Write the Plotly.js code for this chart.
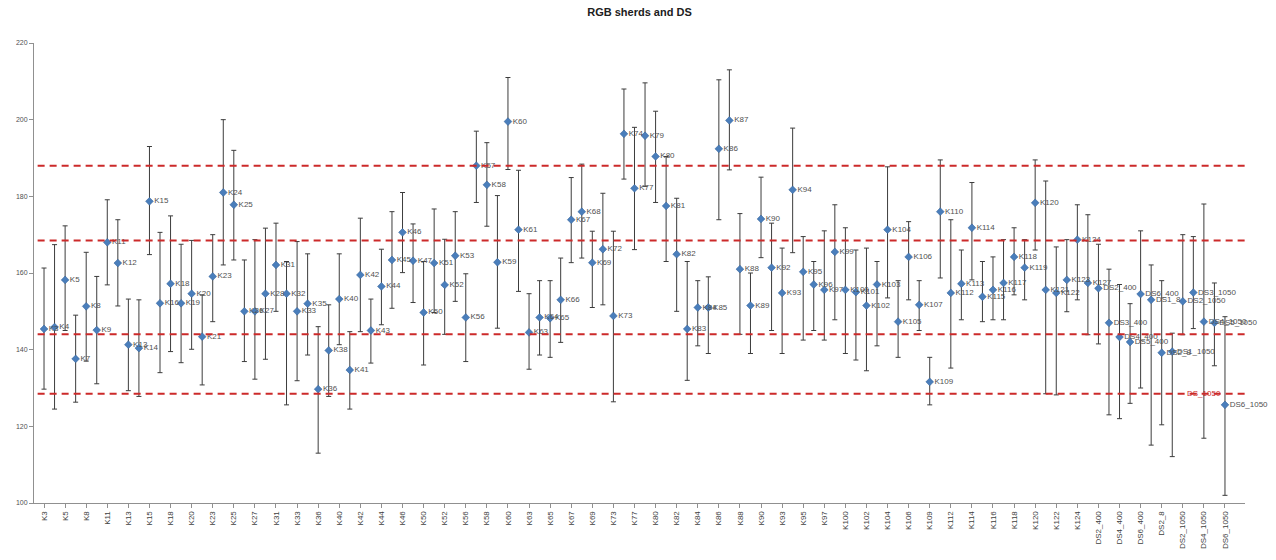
<!DOCTYPE html>
<html>
<head>
<meta charset="utf-8">
<script src="https://cdn.plot.ly/plotly-3.0.1.min.js"></script>
<style>html,body{margin:0;padding:0;background:#fff;}#chart{width:1276px;height:560px;}</style>
</head>
<body>
<div id="chart"></div>
<script>
const categories = ["K3","K4","K5","K7","K8","K9","K11","K12","K13","K14",
 "K15","K16","K18","K19","K20","K21","K23","K24","K25","K26",
 "K27","K28","K31","K32","K33","K35","K36","K38","K40","K41",
 "K42","K43","K44","K45","K46","K47","K50","K51","K52","K53",
 "K56","K57","K58","K59","K60","K61","K63","K64","K65","K66",
 "K67","K68","K69","K72","K73","K74","K77","K79","K80","K81",
 "K82","K83","K84","K85","K86","K87","K88","K89","K90","K92",
 "K93","K94","K95","K96","K97","K99","K100","K101","K102","K103",
 "K104","K105","K106","K107","K109","K110","K112","K113","K114","K115",
 "K116","K117","K118","K119","K120","K121","K122","K123","K124","K127",
 "DS2_400","DS3_400","DS4_400","DS5_400","DS6_400","DS1_8","DS2_8","DS1_1050","DS2_1050","DS3_1050",
 "DS4_1050","DS5_1050","DS6_1050"];

const values = [145.4,145.9,158.2,137.6,151.3,145.1,168,162.6,141.3,140.4,
 178.7,152.1,157.2,152.1,154.6,143.4,159.1,181,177.8,150,
 150,154.6,162.1,154.6,150,152,129.7,139.8,153.2,134.7,
 159.5,145,156.5,163.4,170.6,163.2,149.7,162.6,156.9,164.5,
 148.4,188,183,162.8,199.5,171.3,144.5,148.4,148.2,153,
 173.9,176,162.7,166.2,148.8,196.3,182.1,195.8,190.4,177.5,
 164.9,145.4,151,151,192.4,199.8,161,151.5,174.1,161.4,
 154.8,181.7,160.3,157,155.6,165.5,155.6,155,151.5,157,
 171.3,147.3,164.2,151.7,131.6,176,154.8,157.2,171.8,153.8,
 155.6,157.4,164.2,161.4,178.3,155.6,154.8,158.2,168.7,157.4,
 156,147,143.3,142,154.5,153,139.2,139.5,152.6,154.9,
 147.3,147,125.6];

const upper = [161.3,167.4,172.3,149,165.4,159.1,179.1,173.9,153.2,153,
 193,170.6,174.9,167.5,168.5,154.3,170,200,192,163.4,
 168.7,171.7,173,163,168.2,165,146,151.7,165,144.7,
 174.3,153.2,166.2,176,181,172.8,163,176.7,168.8,176,
 159.8,197,194,180.2,211,186.8,154.6,158,158,163.9,
 184.9,188.4,170.9,180.8,170.9,208,198,209.6,202.2,190.4,
 179.5,163,158,159,210.4,213,175.5,160,185,173,
 166.5,197.8,169.5,163,171,177.8,171.8,166,166.5,163,
 187.7,158,173.4,158,138,189.5,173.9,166,183.6,163,
 164.2,168.7,171.8,168.7,189.5,184,166.8,168.7,177.8,175.2,
 167.5,161,157,152,171,162.1,158,144.3,170,169.5,
 178,157.4,148.6];

const lower = [129.7,124.5,145,126.3,137,131.1,156.9,151.4,129.3,127.8,
 164.8,134,139.5,136.6,140.1,130.8,147.3,162.1,163.4,136.9,
 132.3,137.5,150,125.6,131.9,138.6,113,127.8,141.3,124.5,
 144.7,136.5,146.5,150.8,160.1,152.3,136,149.7,144,152.6,
 136.9,178.4,172.2,145.6,187,155.2,134.9,138.6,138,141.9,
 162.7,163.9,151,151.7,126.4,184.5,166.1,182.6,178.4,163,
 150,132,141,139,173.9,186.9,144,139,164,145,
 139,165.3,142.5,145,142.5,147.8,139,137.3,134.5,141,
 153.5,138,153,145,125.6,158.7,135.2,147.8,158.2,147.3,
 147.8,147.8,154.3,153,166,128.5,128.2,149.9,153,143.9,
 141.5,123,122,126,130,115.1,120.4,112.1,143.9,145.5,
 116.9,135.8,102];

const refLines = [188, 168.5, 144, 128.5];
const extraLabel = {text: "DS_1050", category: "DS4_1050", value: 128.5};
const yTicks = [100, 120, 140, 160, 180, 200, 220];

const plus = values.map((v, i) => upper[i] - v);
const minus = values.map((v, i) => v - lower[i]);
const tickCats = categories.filter((c, i) => i % 2 === 0);

const trace = {
  type: 'scatter',
  mode: 'markers+text',
  x: categories,
  y: values,
  text: categories,
  textposition: 'middle right',
  textfont: {family: 'Liberation Sans, Arial, sans-serif', size: 8, color: '#505050'},
  cliponaxis: false,
  marker: {symbol: 'diamond', size: 6, color: '#4a7ebb', line: {width: 0.5, color: '#2f5d94'}},
  error_y: {type: 'data', symmetric: false, array: plus, arrayminus: minus,
            color: '#3c3c3c', thickness: 1, width: 2.5},
  showlegend: false,
  hoverinfo: 'x+y'
};

const shapes = refLines.map(v => ({
  type: 'line', xref: 'paper', x0: 0.003, x1: 1, yref: 'y', y0: v, y1: v,
  line: {color: '#cc2a2a', width: 2, dash: '7px,5px'}
}));

const layout = {
  width: 1276, height: 560,
  margin: {l: 34, r: 31, t: 43, b: 57},
  paper_bgcolor: '#ffffff', plot_bgcolor: '#ffffff',
  font: {family: 'Liberation Sans, Arial, sans-serif', size: 8, color: '#404040'},
  title: {text: '<b>RGB sherds and DS</b>', font: {size: 11, color: '#202020'},
          x: 0.5, xref: 'paper', y: 0.978, yref: 'container', yanchor: 'middle'},
  xaxis: {
    type: 'category', categoryorder: 'array', categoryarray: categories,
    range: [-0.95, 113.9],
    tickmode: 'array', tickvals: tickCats, ticktext: tickCats,
    tickangle: -90, tickfont: {size: 8, color: '#404040'},
    showline: true, linecolor: '#909090', linewidth: 1,
    ticks: 'outside', ticklen: 4, tickcolor: '#909090',
    showgrid: false, zeroline: false
  },
  yaxis: {
    range: [100, 220], tickmode: 'array', tickvals: yTicks,
    tickfont: {size: 7, color: '#505050'},
    showline: true, linecolor: '#909090', linewidth: 1,
    ticks: 'outside', ticklen: 4, tickcolor: '#909090',
    showgrid: false, zeroline: false
  },
  shapes: shapes,
  annotations: [{x: extraLabel.category, y: extraLabel.value, xref: 'x', yref: 'y',
    text: extraLabel.text, showarrow: false, font: {size: 8, color: '#cc2a2a'}, xanchor: 'center', yanchor: 'middle'}]
};

Plotly.newPlot('chart', [trace], layout, {displayModeBar: false, staticPlot: true});
</script>
</body>
</html>
